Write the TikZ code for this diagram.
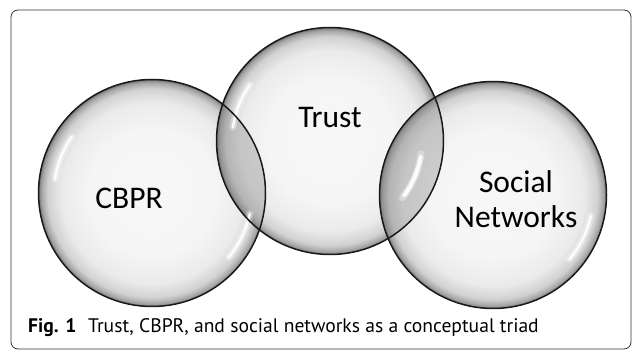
\documentclass[tikz,border=0pt]{standalone}
\usepackage{fontspec}
\setmainfont{Carlito}
\newfontfamily\capfont{PT Sans}
\pgfdeclareradialshading{glass}{\pgfpoint{0bp}{0bp}}{%
  color(0bp)=(black!3); color(14bp)=(black!4); color(20bp)=(black!8);
  color(23bp)=(black!18); color(24.4bp)=(black!36); color(25bp)=(black!55); color(50bp)=(black!55)}
\tikzset{
  bubble/.style={circle, minimum size=227pt, inner sep=0pt, shading=glass},
  rim/.style={draw=black!90, line width=1.5pt},
  shine/.style={draw=white, line width=2.5pt, opacity=0.9, line cap=round},
  glow/.style={draw=white, line width=7pt, opacity=0.35, line cap=round},
  lbl/.style={font=\fontsize{31.5}{35}\selectfont, anchor=base, inner sep=0pt},
  lens/.style={fill=black!50, opacity=0.35},
}
\begin{document}
\begin{tikzpicture}[x=1pt,y=-1pt]
\useasboundingbox (0,0) rectangle (632,352);
\node[draw=black!80, line width=0.8pt, rounded corners=7pt, minimum width=620pt, minimum height=339pt, inner sep=0pt] (frame) at (321,179.5) {};
% bubbles
\node[bubble] (cbpr) at (152,193) {};
\node[bubble] (trust) at (330,141) {};
\node[bubble] (social) at (493,195) {};
% lenses
\begin{scope}
  \clip (cbpr.center) circle (113.5);
  \fill[lens] (trust.center) circle (113.5);
\end{scope}
\begin{scope}
  \clip (social.center) circle (113.5);
  \fill[lens] (trust.center) circle (113.5);
\end{scope}
% highlights
\foreach \c in {cbpr,trust}{
  \draw[glow] (\c.center) ++(188:98) arc[start angle=188, end angle=215, radius=98];
  \draw[shine] (\c.center) ++(188:98) arc[start angle=188, end angle=215, radius=98];
}
\foreach \c in {cbpr,social}{
  \draw[glow] (\c.center) ++(12:100) arc[start angle=12, end angle=40, radius=100];
  \draw[shine] (\c.center) ++(12:100) arc[start angle=12, end angle=40, radius=100];
}
\draw[glow] (trust.center) ++(8:92) arc[start angle=8, end angle=38, radius=92];
\draw[shine, line width=4pt] (trust.center) ++(10:92) arc[start angle=10, end angle=36, radius=92];
% outlines
\draw[rim] (cbpr.center) circle (113.5);
\draw[rim] (trust.center) circle (113.5);
\draw[rim] (social.center) circle (113.5);
% labels
\node[lbl] (tt) at (330,128) {Trust};
\node[lbl] (tc) at (129,209) {CBPR};
\node[lbl] (ts1) at (516,193) {Social};
\node[lbl] (ts2) at (516,228) {Networks};
\node[anchor=base west, inner sep=0pt, font=\capfont\fontsize{19.6}{22}\selectfont] (cap) at (28,333) {\textbf{Fig. 1}\hspace{0.6em}Trust, CBPR, and social networks as a conceptual triad};
\end{tikzpicture}
\end{document}
